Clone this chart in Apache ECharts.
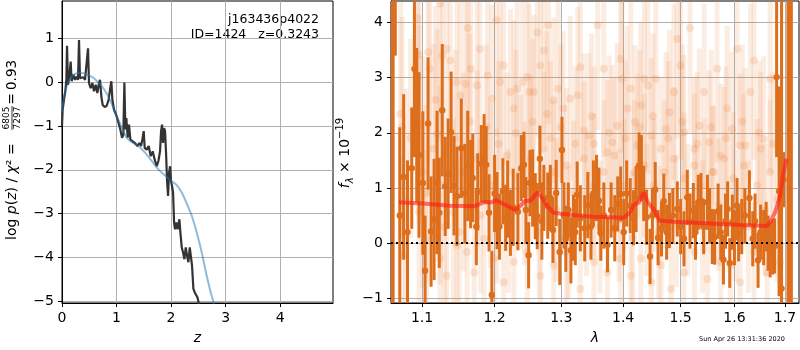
<!DOCTYPE html>
<html>
<head>
<meta charset="utf-8">
<script src="https://cdn.jsdelivr.net/npm/echarts@6/dist/echarts.min.js"></script>
<style>
html, body { margin: 0; padding: 0; background: #fff; }
#chart { width: 800px; height: 350px; }
</style>
</head>
<body>
<div id="chart"></div>
<script>
// ---- left panel: log p(z) ----
const pzZ = [0.000, 0.012, 0.037, 0.061, 0.080, 0.092, 0.110, 0.135, 0.159, 0.177, 0.208, 0.239, 0.269, 0.294, 0.312, 0.330, 0.361, 0.391, 0.422, 0.453, 0.477, 0.495, 0.526, 0.557, 0.587, 0.618, 0.648, 0.679, 0.697, 0.722, 0.746, 0.783, 0.820, 0.856, 0.881, 0.905, 0.924, 0.954, 0.991, 1.028, 1.064, 1.101, 1.125, 1.144, 1.162, 1.180, 1.205, 1.229, 1.254, 1.297, 1.339, 1.382, 1.419, 1.450, 1.474, 1.498, 1.517, 1.554, 1.590, 1.627, 1.664, 1.700, 1.737, 1.768, 1.798, 1.817, 1.835, 1.853, 1.872, 1.890, 1.908, 1.927, 1.945, 1.963, 1.982, 2.000, 2.018, 2.037, 2.055, 2.073, 2.098, 2.122, 2.153, 2.171, 2.196, 2.220, 2.245, 2.269, 2.294, 2.318, 2.343, 2.367, 2.385, 2.410, 2.434, 2.459, 2.483, 2.508, 2.530];
const pzLog = [-1.00, -0.63, -0.40, -0.21, 0.05, 0.83, -0.06, 0.13, 0.47, 0.02, 0.17, 0.05, 0.13, 0.05, 0.96, 0.09, 0.05, 0.11, 0.05, 0.09, 0.77, -0.02, -0.14, -0.02, -0.21, -0.06, -0.25, -0.02, 0.05, -0.33, -0.52, -0.57, -0.54, -0.40, -0.17, 0.02, -0.40, -0.63, -0.74, -0.89, -1.05, -1.27, -1.20, -0.01, -1.08, -0.82, -1.27, -0.97, -1.31, -1.35, -1.39, -1.46, -1.39, -1.46, -1.31, -1.12, -1.50, -1.54, -1.46, -1.69, -1.58, -1.77, -1.92, -1.80, -1.58, -1.12, -0.97, -1.39, -1.05, -1.12, -1.61, -2.26, -2.60, -2.07, -1.92, -2.26, -2.37, -2.52, -3.20, -3.36, -3.20, -3.36, -3.13, -3.43, -3.77, -3.89, -4.04, -3.77, -3.96, -4.11, -3.77, -3.77, -4.19, -4.72, -4.80, -4.76, -4.91, -5.04, -5.30];
const priorZ = [0.000, 0.037, 0.086, 0.147, 0.220, 0.300, 0.391, 0.483, 0.575, 0.667, 0.758, 0.850, 0.942, 1.034, 1.125, 1.187, 1.278, 1.401, 1.523, 1.645, 1.768, 1.890, 2.012, 2.104, 2.196, 2.287, 2.379, 2.471, 2.563, 2.654, 2.728, 2.783, 2.810];
const priorLog = [-0.67, -0.33, -0.10, 0.07, 0.17, 0.21, 0.20, 0.16, 0.10, -0.01, -0.14, -0.33, -0.59, -0.86, -1.12, -1.27, -1.37, -1.46, -1.61, -1.80, -1.99, -2.13, -2.26, -2.35, -2.52, -2.77, -3.05, -3.43, -3.89, -4.42, -4.80, -5.04, -5.30];
const zTicks = [0, 1, 2, 3, 4];
const pzTicks = [-5, -4, -3, -2, -1, 0, 1];

// ---- right panel: spectrum ----
// strong points (lambda in micron, flux, error)
const specLam = [1.0608, 1.0625, 1.0653, 1.071, 1.076, 1.081, 1.0865, 1.090, 1.093, 1.096, 1.101, 1.104, 1.108, 1.112, 1.116, 1.120, 1.123, 1.127, 1.131, 1.135, 1.139, 1.143, 1.147, 1.153, 1.158, 1.162, 1.166, 1.169, 1.174, 1.176, 1.181, 1.185, 1.188, 1.192, 1.196, 1.200, 1.2036, 1.207, 1.212, 1.216, 1.219, 1.223, 1.227, 1.234, 1.239, 1.243, 1.246, 1.250, 1.252, 1.256, 1.260, 1.263, 1.267, 1.270, 1.273, 1.279, 1.283, 1.287, 1.292, 1.2975, 1.301, 1.304, 1.307, 1.311, 1.315, 1.319, 1.322, 1.325, 1.330, 1.337, 1.342, 1.347, 1.351, 1.356, 1.360, 1.363, 1.368, 1.374, 1.380, 1.386, 1.391, 1.396, 1.401, 1.406, 1.412, 1.4175, 1.422, 1.427, 1.431, 1.435, 1.440, 1.446, 1.450, 1.455, 1.460, 1.466, 1.470, 1.475, 1.480, 1.486, 1.494, 1.500, 1.506, 1.512, 1.517, 1.523, 1.527, 1.532, 1.537, 1.542, 1.549, 1.553, 1.558, 1.5625, 1.569, 1.574, 1.579, 1.583, 1.587, 1.591, 1.596, 1.600, 1.605, 1.608, 1.614, 1.620, 1.629, 1.6355, 1.640, 1.646, 1.651, 1.657, 1.662, 1.666, 1.670, 1.675, 1.679, 1.683, 1.688, 1.693, 1.697, 1.706, 1.710, 1.713];
const specF = [5.5, 5.5, 4.5, 0.5, 1.2, 0.2, 1.36, 3.16, 2.14, 1.60, 1.09, -0.50, 2.17, 0.21, 0.43, 1.10, 0.55, 2.41, 1.03, 1.26, 2.01, 1.04, 0.85, 1.72, 0.90, 1.40, 1.07, 1.18, 0.30, 0.93, 1.44, 1.54, 1.42, 0.55, -0.94, 0.90, 0.59, 0.30, 0.94, 0.46, 0.80, 0.37, 0.65, 0.57, 1.36, 1.42, 0.60, -0.22, 1.09, 1.00, 0.67, 0.49, 1.53, 0.40, 0.82, 0.68, 0.82, 0.24, 0.91, -0.16, 1.69, 0.50, 0.08, 0.60, -0.13, 0.28, 0.20, 0.88, 0.45, 0.27, 0.69, 0.30, 0.90, 1.00, 0.77, 0.18, 0.50, -0.03, 0.60, 0.27, 0.71, 0.89, 0.20, 0.90, 0.68, 0.46, 0.80, 1.41, 1.36, 0.90, 0.47, -0.24, 0.50, 0.97, 0.10, 0.26, 0.76, 0.20, 0.41, 0.50, 0.62, 0.30, 0.08, 0.83, 0.40, 0.59, 0.20, 0.74, 0.77, 0.30, 0.74, 0.50, 0.12, 0.11, 0.58, 0.20, -0.30, 0.40, 0.62, -0.36, 0.38, 0.10, 0.68, 0.17, 0.30, 0.50, 0.82, 0.08, 0.40, -0.31, 0.20, 0.10, 0.30, 0.00, -0.12, -0.07, -0.05, 3.01, 0.94, -0.82, 1.15, 5.5, 5.5, 5.5];
const specErr = [30, 30, 1.1, 1.6, 1.5, 1.3, 1.1, 1.6, 1.4, 1.5, 1.3, 1.0, 1.2, 1.0, 1.1, 1.3, 1.0, 1.2, 0.9, 1.0, 1.1, 0.9, 0.9, 0.9, 0.9, 1.0, 0.8, 0.8, 0.7, 0.7, 0.7, 0.8, 0.7, 0.7, 0.8, 0.7, 0.7, 0.6, 0.6, 0.6, 0.7, 0.6, 0.7, 0.7, 0.6, 0.6, 0.6, 0.6, 0.6, 0.7, 0.6, 0.6, 0.6, 0.7, 0.6, 0.6, 0.6, 0.6, 0.6, 0.6, 0.6, 0.6, 0.6, 0.5, 0.6, 0.6, 0.6, 0.6, 0.6, 0.6, 0.6, 0.6, 0.6, 0.6, 0.6, 0.5, 0.6, 0.5, 0.5, 0.6, 0.5, 0.5, 0.6, 0.6, 0.5, 0.5, 0.6, 0.6, 0.6, 0.5, 0.5, 0.5, 0.5, 0.5, 0.5, 0.5, 0.5, 0.5, 0.5, 0.5, 0.5, 0.5, 0.5, 0.5, 0.5, 0.5, 0.5, 0.5, 0.5, 0.5, 0.5, 0.5, 0.5, 0.5, 0.5, 0.5, 0.45, 0.5, 0.5, 0.45, 0.5, 0.5, 0.5, 0.5, 0.5, 0.5, 0.5, 0.5, 0.5, 0.5, 0.5, 0.5, 0.45, 0.5, 0.5, 0.5, 0.5, 1.45, 1.9, 6, 0.5, 30, 30, 30];

// faint points from the other exposures
const faintLam = [1.072, 1.074, 1.094, 1.096, 1.096, 1.108, 1.110, 1.120, 1.124, 1.127, 1.133, 1.138, 1.147, 1.152, 1.159, 1.162, 1.166, 1.175, 1.179, 1.190, 1.196, 1.203, 1.208, 1.213, 1.223, 1.228, 1.233, 1.241, 1.248, 1.251, 1.258, 1.263, 1.268, 1.273, 1.278, 1.280, 1.288, 1.295, 1.303, 1.314, 1.326, 1.330, 1.336, 1.344, 1.352, 1.358, 1.368, 1.374, 1.382, 1.390, 1.396, 1.398, 1.407, 1.413, 1.420, 1.424, 1.430, 1.436, 1.442, 1.448, 1.456, 1.465, 1.474, 1.480, 1.488, 1.494, 1.500, 1.506, 1.517, 1.525, 1.534, 1.543, 1.552, 1.558, 1.567, 1.574, 1.586, 1.595, 1.605, 1.611, 1.621, 1.631, 1.638, 1.651, 1.657, 1.670,
  1.079, 1.101, 1.115, 1.124, 1.142, 1.156, 1.175, 1.194, 1.203, 1.218, 1.238, 1.253, 1.273, 1.288, 1.308, 1.319, 1.336, 1.352, 1.368, 1.385, 1.401, 1.419, 1.436, 1.453, 1.471, 1.488, 1.506, 1.525, 1.543, 1.561, 1.580, 1.598, 1.618, 1.644, 1.670, 1.684,
  1.074, 1.096, 1.106, 1.124, 1.133, 1.147, 1.161, 1.171, 1.185, 1.199, 1.213, 1.228, 1.248, 1.268, 1.288, 1.308, 1.330, 1.352, 1.374, 1.396, 1.413, 1.430, 1.448, 1.465, 1.483, 1.506, 1.525, 1.549, 1.574, 1.592, 1.611, 1.638, 1.664, 1.690,
  1.085, 1.105, 1.118, 1.130, 1.145, 1.150, 1.165, 1.180, 1.188, 1.206, 1.220, 1.231, 1.244, 1.256, 1.266, 1.283, 1.292, 1.299, 1.311, 1.322, 1.340, 1.348, 1.362, 1.377, 1.393, 1.404, 1.416, 1.428, 1.440, 1.451, 1.461, 1.478, 1.492, 1.503, 1.513, 1.530, 1.540, 1.556, 1.570, 1.584, 1.602, 1.615, 1.627, 1.648, 1.660, 1.676];
const faintF = [2.34, 2.10, 4.08, 3.41, 2.16, 3.46, 3.16, 1.98, 4.34, 3.40, 3.52, 3.31, 2.92, 2.68, 2.89, 3.90, 3.16, 2.86, 3.52, 3.04, 2.62, 4.04, 2.92, 3.22, 2.74, 2.44, 2.80, 2.92, 3.01, 2.74, 2.74, 3.82, 3.22, 3.49, 2.34, 3.95, 2.59, 2.80, 2.44, 2.62, 2.68, 3.19, 2.04, 1.95, 1.80, 3.95, 3.16, 1.65, 1.83, 2.13, 3.34, 2.98, 2.44, 2.80, 2.19, 1.77, 2.50, 2.98, 2.86, 1.95, 2.98, 1.71, 2.07, 2.37, 2.74, 3.70, 3.22, 2.01, 3.90, 1.71, 2.13, 2.74, 1.83, 1.29, 3.16, 1.59, 2.44, 2.07, 3.52, 1.77, 1.77, 2.74, 3.31, 1.71, 1.89, 2.98,
  0.80, 1.29, 1.71, 1.05, 0.56, 1.29, 1.53, 1.05, 0.68, 1.59, 1.29, 1.53, 1.71, 1.29, 1.41, 0.92, 1.53, 1.05, 1.29, 1.59, 1.05, 1.29, 1.41, 1.05, 1.29, 1.53, 1.17, 1.41, 1.05, 1.29, 1.53, 1.17, 1.41, 1.05, 1.29, 0.80,
  -0.22, 0.56, 0.08, -0.28, -0.59, -0.04, -0.16, -0.53, 0.08, -0.28, -0.71, -0.34, -0.16, -0.59, -0.40, -0.16, -0.83, -0.34, -0.53, -0.28, -0.59, -0.28, -0.71, -0.40, -0.83, -0.53, -0.16, -0.65, -0.34, -0.40, -0.71, -0.16, -0.53, -0.34,
  1.9, 0.9, 2.6, 0.3, 1.9, 0.2, 2.2, 0.5, 2.1, 1.8, 0.4, 2.0, 0.9, 2.2, 0.2, 1.9, 0.6, 2.1, 0.2, 1.8, 0.7, 2.3, 0.3, 2.0, 0.5, 1.9, 0.1, 2.1, 0.6, 2.3, 0.2, 1.9, 0.4, 2.2, 0.6, 1.8, 0.3, 2.1, 0.7, 1.9, 0.5, 2.2, 0.3, 2.0, 0.6, 1.8];
const faintErr = [2.2, 2.0, 2.4, 2.2, 1.8, 2.0, 2.3, 1.9, 2.5, 2.1, 1.9, 2.2, 1.8, 2.0, 1.7, 2.2, 1.9, 1.6, 2.0, 1.8, 1.7, 2.1, 1.6, 1.8, 1.5, 1.6, 1.7, 1.5, 1.8, 1.6, 1.4, 1.9, 1.6, 1.7, 1.5, 1.8, 1.5, 1.6, 1.4, 1.5, 1.6, 1.7, 1.4, 1.5, 1.4, 1.9, 1.6, 1.3, 1.4, 1.5, 1.7, 1.6, 1.5, 1.6, 1.4, 1.3, 1.5, 1.7, 1.6, 1.4, 1.6, 1.3, 1.4, 1.5, 1.6, 1.8, 1.7, 1.4, 1.9, 1.3, 1.4, 1.6, 1.3, 1.2, 1.7, 1.3, 1.5, 1.4, 1.8, 1.3, 1.4, 1.6, 1.8, 1.4, 1.5, 1.7,
  2.0, 2.1, 1.9, 1.8, 1.7, 1.8, 1.6, 1.5, 1.4, 1.5, 1.4, 1.5, 1.4, 1.3, 1.4, 1.3, 1.4, 1.3, 1.3, 1.4, 1.2, 1.3, 1.3, 1.2, 1.3, 1.3, 1.2, 1.3, 1.2, 1.2, 1.3, 1.2, 1.3, 1.2, 1.3, 1.5,
  1.8, 1.7, 1.6, 1.6, 1.5, 1.5, 1.4, 1.4, 1.3, 1.3, 1.2, 1.2, 1.2, 1.1, 1.1, 1.1, 1.0, 1.0, 1.0, 1.0, 1.0, 1.0, 0.9, 0.9, 0.9, 0.9, 0.9, 0.9, 0.9, 0.9, 0.9, 0.9, 0.9, 1.0,
  1.8, 1.6, 1.7, 1.5, 1.6, 1.4, 1.6, 1.4, 1.5, 1.5, 1.3, 1.5, 1.3, 1.5, 1.2, 1.4, 1.3, 1.5, 1.2, 1.4, 1.3, 1.5, 1.2, 1.4, 1.2, 1.4, 1.2, 1.4, 1.2, 1.5, 1.2, 1.4, 1.2, 1.4, 1.2, 1.3, 1.2, 1.4, 1.2, 1.3, 1.2, 1.4, 1.2, 1.3, 1.2, 1.3];

// model
const modelLam = [1.070, 1.101, 1.138, 1.171, 1.175, 1.184, 1.196, 1.201, 1.208, 1.218, 1.230, 1.238, 1.245, 1.253, 1.263, 1.268, 1.278, 1.288, 1.318, 1.351, 1.401, 1.412, 1.418, 1.427, 1.435, 1.442, 1.454, 1.462, 1.487, 1.547, 1.611, 1.663, 1.670, 1.680, 1.690, 1.696, 1.703];
const modelF = [0.74, 0.72, 0.68, 0.67, 0.69, 0.74, 0.74, 0.78, 0.74, 0.68, 0.60, 0.68, 0.77, 0.77, 0.92, 0.86, 0.68, 0.55, 0.51, 0.48, 0.46, 0.56, 0.69, 0.74, 0.92, 0.74, 0.59, 0.41, 0.39, 0.36, 0.33, 0.31, 0.38, 0.56, 0.86, 1.22, 1.53];
const lamTicks = [1.1, 1.2, 1.3, 1.4, 1.5, 1.6, 1.7];
const fTicks = [-1, 0, 1, 2, 3, 4];
const lamMin = 1.0598, lamMax = 1.7288;

const chart = echarts.init(document.getElementById('chart'));

const font = 'DejaVu Sans';
const minus = v => (v < 0 ? '\u2212' + Math.abs(v) : String(v));

function errorBars(barColor, dotColor, lw, r) {
    return function (params, api) {
        const x = api.value(0), y = api.value(1), e = api.value(2);
        const lo = api.coord([x, y - e]);
        const hi = api.coord([x, y + e]);
        const c = api.coord([x, y]);
        return {
            type: 'group',
            children: [
                { type: 'line', shape: { x1: lo[0], y1: lo[1], x2: hi[0], y2: hi[1] }, style: { stroke: barColor, lineWidth: lw } },
                { type: 'circle', shape: { cx: c[0], cy: c[1], r: r }, style: { fill: dotColor } }
            ]
        };
    };
}

function axisCommon(ticks, fmt) {
    return {
        axisLine: { show: true, onZero: false, lineStyle: { color: '#000', width: 1 } },
        axisTick: { show: true, customValues: ticks, length: 4, lineStyle: { color: '#000' } },
        axisLabel: { customValues: ticks, formatter: fmt, color: '#000', fontSize: 14, fontFamily: font, margin: 8 },
        splitLine: { show: true, lineStyle: { color: '#b0b0b0', width: 1 } }
    };
}

const option = {
    animation: false,
    grid: [
        { left: 62, right: 467, top: 1, bottom: 46, show: true, borderColor: '#000', borderWidth: 1, backgroundColor: 'transparent' },
        { left: 391, right: 1, top: 1, bottom: 46, show: true, borderColor: '#000', borderWidth: 1, backgroundColor: 'transparent' }
    ],
    xAxis: [
        Object.assign({
            type: 'value', gridIndex: 0, min: 0, max: 4.97,
            name: 'z', nameLocation: 'middle', nameGap: 28,
            nameTextStyle: { fontStyle: 'italic', fontSize: 14, fontFamily: font, color: '#000' }
        }, axisCommon(zTicks, minus)),
        Object.assign({
            type: 'value', gridIndex: 1, min: Math.log(lamMin), max: Math.log(lamMax),
            name: '\u03bb', nameLocation: 'middle', nameGap: 28,
            nameTextStyle: { fontStyle: 'italic', fontSize: 14, fontFamily: font, color: '#000' }
        }, axisCommon(lamTicks.map(Math.log), v => Math.exp(v).toFixed(1)))
    ],
    yAxis: [
        Object.assign({ type: 'value', gridIndex: 0, min: -5.04, max: 1.85 }, axisCommon(pzTicks, minus)),
        Object.assign({ type: 'value', gridIndex: 1, min: -1.085, max: 4.39 }, axisCommon(fTicks, minus))
    ],
    graphic: [
        {
            type: 'group', x: 12, y: 154, rotation: Math.PI / 2,
            children: [
                {
                    type: 'text', x: -86, y: 0,
                    style: {
                        text: '{r|log }{i|p}{r|(}{i|z}{r|) / }{i|\u03c7}{r|\u00b2 = }',
                        align: 'left', verticalAlign: 'middle', fill: '#000',
                        rich: {
                            r: { fontSize: 14, fontFamily: font },
                            i: { fontSize: 14, fontFamily: font, fontStyle: 'italic' }
                        }
                    }
                },
                { type: 'text', x: 36, y: -5, style: { text: '6805', fontSize: 9, fontFamily: font, align: 'center', verticalAlign: 'middle', fill: '#000' } },
                { type: 'line', shape: { x1: 24, y1: 0, x2: 48, y2: 0 }, style: { stroke: '#000', lineWidth: 0.8 } },
                { type: 'text', x: 36, y: 6, style: { text: '7297', fontSize: 9, fontFamily: font, align: 'center', verticalAlign: 'middle', fill: '#000' } },
                { type: 'text', x: 55, y: 0, style: { text: '=', fontSize: 14, fontFamily: font, align: 'center', verticalAlign: 'middle', fill: '#000' } },
                { type: 'text', x: 64, y: 0, style: { text: '0.93', fontSize: 13.5, fontFamily: font, align: 'left', verticalAlign: 'middle', fill: '#000' } }
            ]
        },
        {
            type: 'group', x: 345, y: 153, rotation: Math.PI / 2,
            children: [{
                type: 'text', x: 0, y: 0,
                style: {
                    text: '{i|f}{s|\u03bb}{r| \u00d7 10}{p|\u221219}',
                    align: 'center', verticalAlign: 'middle', fill: '#000',
                    rich: {
                        r: { fontSize: 14, fontFamily: font, lineHeight: 20 },
                        i: { fontSize: 14, fontFamily: font, fontStyle: 'italic', lineHeight: 20 },
                        s: { fontSize: 10, fontFamily: font, fontStyle: 'italic', lineHeight: 10, verticalAlign: 'bottom' },
                        p: { fontSize: 10, fontFamily: font, lineHeight: 10, verticalAlign: 'top' }
                    }
                }
            }]
        },
        { type: 'text', x: 319, y: 20, style: { text: 'j163436p4022', fontSize: 12.5, fontFamily: font, align: 'right', verticalAlign: 'middle', fill: '#000' } },
        { type: 'text', x: 319, y: 35, style: { text: 'ID=1424   z=0.3243', fontSize: 12.5, fontFamily: font, align: 'right', verticalAlign: 'middle', fill: '#000' } },
        { type: 'text', x: 742, y: 339, style: { text: 'Sun Apr 26 13:31:36 2020', fontSize: 6.5, fontFamily: font, align: 'center', verticalAlign: 'middle', fill: '#000' } }
    ],
    series: [
        {
            type: 'line', xAxisIndex: 0, yAxisIndex: 0, showSymbol: false, clip: true,
            lineStyle: { color: '#333', width: 2.2 },
            data: pzZ.map((z, i) => [z, pzLog[i]])
        },
        {
            type: 'line', xAxisIndex: 0, yAxisIndex: 0, showSymbol: false, clip: true, smooth: 0.3,
            lineStyle: { color: 'rgba(31,119,180,0.5)', width: 2 },
            data: priorZ.map((z, i) => [z, priorLog[i]])
        },
        {
            type: 'custom', xAxisIndex: 1, yAxisIndex: 1, clip: true,
            renderItem: errorBars('rgba(235,130,60,0.14)', 'rgba(235,130,60,0.2)', 5, 4),
            encode: { x: 0, y: 1 },
            data: faintLam.map((l, i) => [Math.log(l), faintF[i], faintErr[i]])
        },
        {
            type: 'custom', xAxisIndex: 1, yAxisIndex: 1, clip: true,
            renderItem: errorBars('#dd6e1c', '#dd6e1c', 3, 3.2),
            encode: { x: 0, y: 1 },
            data: specLam.map((l, i) => [Math.log(l), specF[i], specErr[i]])
        },
        {
            type: 'line', xAxisIndex: 1, yAxisIndex: 1, showSymbol: false, clip: true,
            lineStyle: { color: 'rgba(255,25,25,0.6)', width: 4 },
            data: modelLam.map((l, i) => [Math.log(l), modelF[i]]),
            markLine: {
                silent: true, symbol: ['none', 'none'], label: { show: false },
                lineStyle: { color: '#000', type: [2, 3], width: 2 },
                data: [{ yAxis: 0 }]
            }
        }
    ]
};

chart.setOption(option);
</script>
</body>
</html>
